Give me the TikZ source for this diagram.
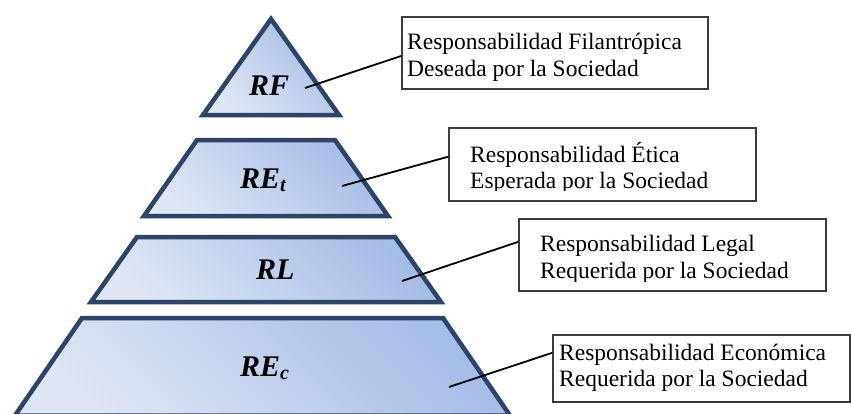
\documentclass[tikz,border=0pt]{standalone}
\usepackage{fontspec}
\setmainfont{Liberation Serif}
\usetikzlibrary{calc}
\definecolor{edge}{HTML}{2B4468}
\definecolor{fillA}{HTML}{A5BCE6}
\definecolor{fillB}{HTML}{DFE6F4}
\definecolor{boxline}{HTML}{3C3C3C}
\newcommand{\lvlsub}[1]{\raisebox{-3bp}{\fontsize{20bp}{20bp}\selectfont #1}}
\tikzset{
 layer/.style={draw=edge, line width=4.5bp, line join=miter, top color=fillA, bottom color=fillB, shading angle=-45},
 lvl/.style={anchor=base west, inner sep=0pt, font=\fontsize{30bp}{34bp}\selectfont\bfseries\itshape},
 callbox/.style={draw=boxline, line width=1.4bp, fill=white, inner sep=0pt},
 calltext/.style={anchor=base west, inner sep=0pt, font=\fontsize{23.5bp}{28bp}\selectfont},
 leader/.style={line width=1.8bp, black},
}
\begin{document}
\begin{tikzpicture}[x=1bp,y=-1bp]
\fill[white] (0,0) rectangle (851,413);
\clip (0,0) rectangle (851,413);
% pyramid layers
\draw[layer] (271,19) -- (339,115) -- (203,115) -- cycle;
\draw[layer] (197,140) -- (335,140) -- (388,216) -- (144,216) -- cycle;
\draw[layer] (137,237) -- (395,237) -- (441,302) -- (91,302) -- cycle;
\draw[layer] (82,318) -- (443,318) -- (510,415.5) -- (15,415.5) -- cycle;
% level labels
\node[lvl] (rf) at (249,95) {RF};
\node[lvl] (ret) at (240,188) {RE\lvlsub{t}};
\node[lvl] (rl) at (256,279) {RL};
\node[lvl] (rec) at (240,376) {RE\lvlsub{c}};
% callout boxes
\node[callbox, minimum width=306bp, minimum height=72bp] (b1) at (555,53) {};
\node[callbox, minimum width=307bp, minimum height=73bp] (b2) at (602.5,164.5) {};
\node[callbox, minimum width=307bp, minimum height=72bp] (b3) at (672.5,255) {};
\node[callbox, minimum width=297bp, minimum height=67bp] (b4) at (701.5,368.5) {};
% texts
\node[calltext] (t1a) at (407,49.3) {Responsabilidad Filantrópica};
\node[calltext] (t1b) at (407,76.7) {Deseada por la Sociedad};
\begin{scope}
\clip (449,128) rectangle (756,190.7);
\node[calltext] (t2a) at (470,162.3) {Responsabilidad Ética};
\node[calltext] (t2b) at (470,188.3) {Esperada por la Sociedad};
\end{scope}
\begin{scope}
\clip (519,219) rectangle (826,281.7);
\node[calltext] (t3a) at (540,251.7) {Responsabilidad Legal};
\node[calltext] (t3b) at (540,278.3) {Requerida por la Sociedad};
\end{scope}
\node[calltext] (t4a) at (559,360.7) {Responsabilidad Económica};
\node[calltext] (t4b) at (559,386.7) {Requerida por la Sociedad};
% leader lines
\coordinate (p1) at (305,88);
\coordinate (p2) at (342,186);
\coordinate (p3) at (402,281);
\coordinate (p4) at (449,387);
\draw[leader] (p1) -- ($(b1.north west)!0.54!(b1.south west)$);
\draw[leader] (p2) -- ($(b2.north west)!0.395!(b2.south west)$);
\draw[leader] (p3) -- ($(b3.north west)!0.32!(b3.south west)$);
\draw[leader] (p4) -- ($(b4.north west)!0.27!(b4.south west)$);
\end{tikzpicture}
\end{document}
